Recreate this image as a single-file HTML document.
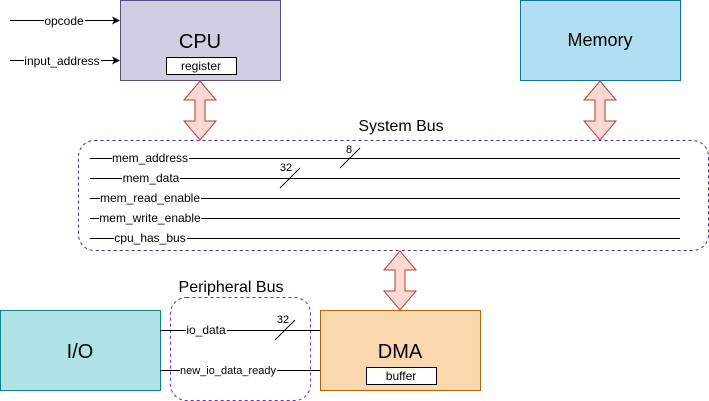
<!DOCTYPE html>
<html><head><meta charset="utf-8"><style>
html,body{margin:0;padding:0;background:#fff;}
svg{display:block;font-family:"Liberation Sans",sans-serif;}
</style></head><body>
<svg width="709" height="401" viewBox="0 0 709 401" xmlns="http://www.w3.org/2000/svg">
<defs>
<marker id="ar" markerWidth="8" markerHeight="8" refX="7" refY="4" orient="auto" markerUnits="userSpaceOnUse">
<path d="M0,0 L8,4 L0,8 L2,4 Z" fill="#000"/>
</marker>
</defs>
<!-- CPU -->
<rect x="120.5" y="0.5" width="160" height="80" fill="#d0cee2" stroke="#56517e"/>
<text x="200" y="48" font-size="20" text-anchor="middle" fill="#000">CPU</text>
<rect x="166.5" y="57.5" width="70" height="17" fill="#fff" stroke="#000"/>
<text x="201" y="70" font-size="12" text-anchor="middle">register</text>
<!-- inputs -->
<line x1="10" y1="20.5" x2="119" y2="20.5" stroke="#000" marker-end="url(#ar)"/>
<rect x="44" y="13" width="41" height="14" fill="#fff"/>
<text x="64" y="25" font-size="12" text-anchor="middle">opcode</text>
<line x1="10" y1="60.5" x2="119" y2="60.5" stroke="#000" marker-end="url(#ar)"/>
<rect x="24" y="53" width="77" height="14" fill="#fff"/>
<text x="62" y="65" font-size="12" text-anchor="middle">input_address</text>
<!-- Memory -->
<rect x="520.5" y="0.5" width="160" height="80" fill="#b1ddf0" stroke="#10739e"/>
<text x="600" y="46" font-size="18" text-anchor="middle">Memory</text>
<!-- double arrows -->
<g fill="#fad9d5" stroke="#ae4132">
<path d="M200,81 L216,100 L205,100 L205,121 L216,121 L200,140 L184,121 L195,121 L195,100 L184,100 Z"/>
<path d="M600,81 L616,100 L605,100 L605,121 L616,121 L600,140 L584,121 L595,121 L595,100 L584,100 Z"/>
<path d="M400,251 L416,270 L405,270 L405,291 L416,291 L400,310 L384,291 L395,291 L395,270 L384,270 Z"/>
</g>
<!-- System bus -->
<rect x="78.5" y="140.5" width="630" height="110" rx="16" fill="none" stroke="#3a2fb0" stroke-dasharray="3,3"/>
<text x="401" y="131" font-size="16" text-anchor="middle">System Bus</text>
<g stroke="#000">
<line x1="90" y1="158.5" x2="680" y2="158.5"/>
<line x1="90" y1="178.5" x2="680" y2="178.5"/>
<line x1="90" y1="198.5" x2="680" y2="198.5"/>
<line x1="90" y1="218.5" x2="680" y2="218.5"/>
<line x1="90" y1="238.5" x2="680" y2="238.5"/>
<line x1="340" y1="168" x2="360" y2="148"/>
<line x1="280" y1="188" x2="300" y2="168"/>
</g>
<g font-size="12" text-anchor="middle">
<rect x="112" y="151" width="77" height="14" fill="#fff"/><text x="150" y="162">mem_address</text>
<rect x="122" y="171" width="58" height="14" fill="#fff"/><text x="151" y="182">mem_data</text>
<rect x="100" y="191" width="101" height="14" fill="#fff"/><text x="150" y="202">mem_read_enable</text>
<rect x="99" y="211" width="102" height="14" fill="#fff"/><text x="150" y="222">mem_write_enable</text>
<rect x="114" y="231" width="73" height="14" fill="#fff"/><text x="150" y="242">cpu_has_bus</text>
</g>
<text x="349" y="153" font-size="11" text-anchor="middle">8</text>
<text x="286" y="171" font-size="11" text-anchor="middle">32</text>
<!-- I/O -->
<rect x="0.5" y="310.5" width="160" height="80" fill="#b0e3e6" stroke="#0e8088"/>
<text x="80" y="358" font-size="20" text-anchor="middle">I/O</text>
<!-- DMA -->
<rect x="320.5" y="310.5" width="160" height="80" fill="#fad7ac" stroke="#b46504"/>
<text x="400" y="358" font-size="20" text-anchor="middle">DMA</text>
<rect x="366.5" y="367.5" width="70" height="17" fill="#fff" stroke="#000"/>
<text x="401" y="380" font-size="12" text-anchor="middle">buffer</text>
<!-- Peripheral bus -->
<rect x="170.5" y="297.5" width="140" height="103" rx="16" fill="none" stroke="#6a2fd0" stroke-dasharray="3,3"/>
<text x="231" y="292" font-size="16" text-anchor="middle">Peripheral Bus</text>
<g stroke="#000">
<line x1="160" y1="330.5" x2="320" y2="330.5"/>
<line x1="160" y1="370.5" x2="320" y2="370.5"/>
<line x1="275" y1="340" x2="295" y2="320"/>
</g>
<rect x="186" y="323" width="41" height="14" fill="#fff"/>
<text x="206" y="334" font-size="12" text-anchor="middle">io_data</text>
<rect x="180" y="363" width="97" height="14" fill="#fff"/>
<text x="228" y="374" font-size="11" text-anchor="middle">new_io_data_ready</text>
<text x="283" y="323" font-size="11" text-anchor="middle">32</text>
</svg>
</body></html>
